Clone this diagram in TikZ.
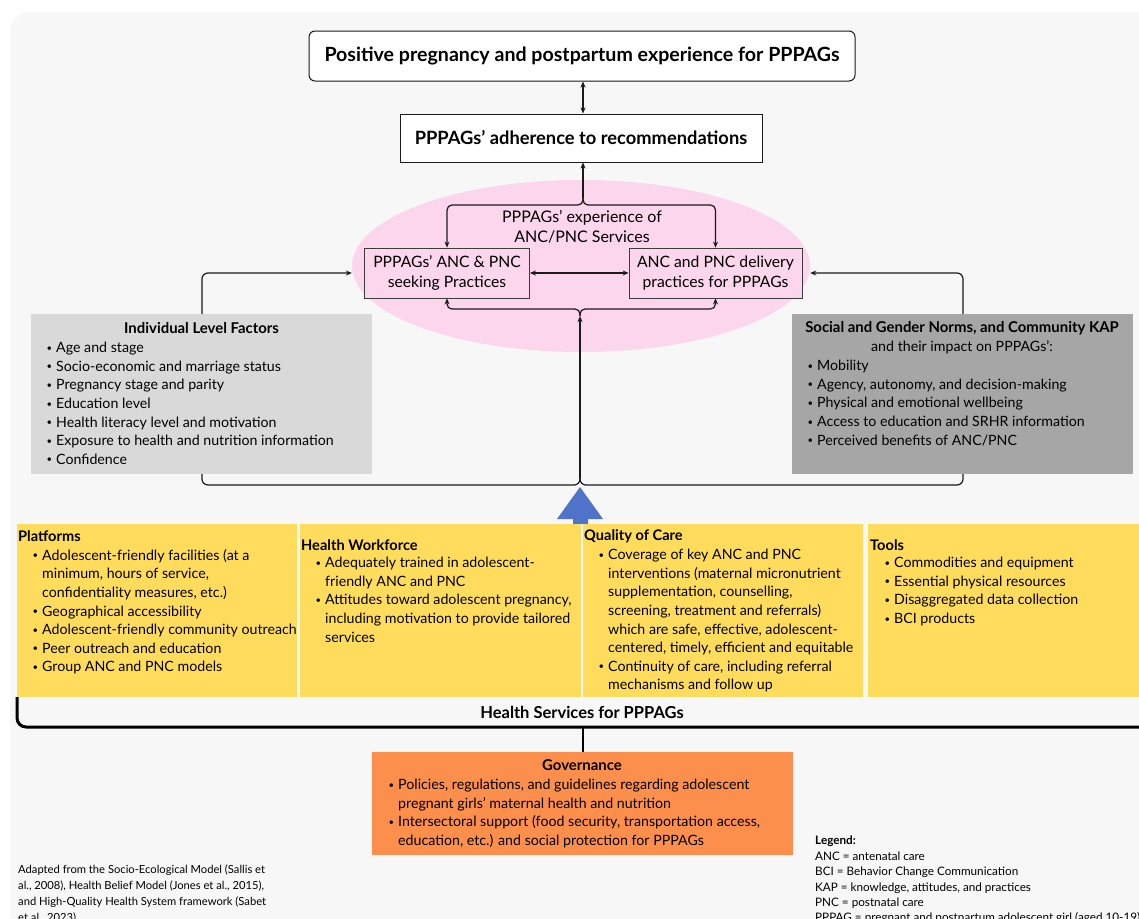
\documentclass[tikz,border=0pt]{standalone}
\usepackage{fontspec}
\setmainfont{Lato}
\usetikzlibrary{arrows.meta,shapes.geometric}
\definecolor{bgc}{HTML}{F7F7F7}
\definecolor{pinkE}{HTML}{FCD6EC}
\definecolor{greyL}{HTML}{D9D9D9}
\definecolor{greyD}{HTML}{A6A6A6}
\definecolor{yel}{HTML}{FFDC5C}
\definecolor{orng}{HTML}{FC8F4B}
\definecolor{blu}{HTML}{4E73C9}
\definecolor{lnc}{HTML}{1A1A1A}
\newcommand\fs[2]{\fontsize{#1}{#2}\selectfont}
\newcommand\mybul{\makebox[10pt][l]{\hspace*{0.5pt}\raisebox{1.4pt}{\fs{9.5}{9.5}\textbullet}}}
\newcommand\mycont{\hspace*{10pt}}
\tikzset{
  arr/.style={-{Stealth[length=6pt,width=5pt]}, line width=1.2pt, draw=lnc},
  darr/.style={{Stealth[length=6pt,width=5pt]}-{Stealth[length=6pt,width=5pt]}, line width=1.2pt, draw=lnc},
  txt/.style={inner sep=0pt, align=left, anchor=north west, font=\fs{14.2}{18.6}},
  ttl/.style={inner sep=0pt, anchor=west, font=\bfseries\fs{14.6}{18}},
  ctitle/.style={inner sep=0pt, font=\bfseries\fs{14.9}{18}},
  ctr/.style={inner sep=0pt, align=center, font=\fs{16}{20}},
  panel/.style={inner sep=0pt, anchor=north west, draw=none},
  pbox/.style={draw=lnc!85, line width=0.8pt, fill=pinkE, minimum height=50pt, inner sep=0pt, align=center, font=\fs{15.7}{20.5}},
}
\begin{document}
\begin{tikzpicture}[x=1pt,y=-1pt]
\useasboundingbox (0,0) rectangle (1139,918);
\clip (0,0) rectangle (1139,918);
\fill[white] (0,0) rectangle (1139,918);
\fill[bgc, rounded corners=20pt] (10,12) rectangle (1180,960);

% top boxes
\node[draw=lnc, line width=1pt, rounded corners=6pt, fill=white, minimum width=546pt, minimum height=50pt, inner sep=0pt, font=\bfseries\fs{19.6}{23}] (top) at (582,56) {Positive pregnancy and postpartum experience for PPPAGs};
\node[draw=lnc, line width=1pt, fill=white, minimum width=362pt, minimum height=48pt, inner sep=0pt, font=\bfseries\fs{18.3}{22}] (adh) at (581,138) {PPPAGs’ adherence to recommendations};
\draw[darr] (top.south -| 583,0) -- (adh.north -| 583,0);

% ellipse
\node[ellipse, fill=pinkE, minimum width=458pt, minimum height=172pt, inner sep=0pt] (ell) at (581,266) {};
\node[ctr] (exp) at (582,227) {PPPAGs’ experience of\\ANC/PNC Services};
\node[pbox, minimum width=165pt] (seek) at (447,273) {PPPAGs’ ANC \& PNC\\seeking Practices};
\node[pbox, minimum width=173pt] (deliv) at (715.5,273) {ANC and PNC delivery\\practices for PPPAGs};
\draw[darr] (seek.east) -- (deliv.west);

\coordinate (jt0) at (583,198);
\coordinate (jt) at (583,205);
\draw[arr] (jt0) -- (jt0 |- adh.south);
\draw[arr, rounded corners=5pt] (jt0) |- (seek.north |- jt) -- (seek.north);
\draw[arr, rounded corners=5pt] (jt0) |- (deliv.north |- jt) -- (deliv.north);

\coordinate (jb0) at (580,316);
\coordinate (jb) at (580,309);
\draw[arr, rounded corners=5pt] (jb0) |- (seek.south |- jb) -- (seek.south);
\draw[arr, rounded corners=5pt] (jb0) |- (deliv.south |- jb) -- (deliv.south);

\coordinate (jc0) at (580,478);
\draw[arr] (jc0) -- (jb0);
\draw[arr, rounded corners=6pt] (jc0) |- (202,485) |- (ell.west |- seek.west);
\draw[arr, rounded corners=6pt] (jc0) |- (963,485) |- (ell.east |- deliv.east);

% grey panels
\node[panel, fill=greyL, minimum width=341pt, minimum height=160pt] (ind) at (31,314) {};
\node[ctitle] (indt) at (201.5,328) {Individual Level Factors};
\node[txt] (indl) at (46,342) {\mybul Age and stage\\\mybul Socio-economic and marriage status\\\mybul Pregnancy stage and parity\\\mybul Education level\\\mybul Health literacy level and motivation\\\mybul Exposure to health and nutrition information\\\mybul Confidence};

\node[panel, fill=greyD, minimum width=341pt, minimum height=160pt] (soc) at (792,314) {};
\node[ctitle] (soct) at (962,328) {Social and Gender Norms, and Community KAP};
\node[inner sep=0pt, font=\fs{14.2}{18}] (soct2) at (962,347) {and their impact on PPPAGs’:};
\node[txt] (socl) at (807,360) {\mybul Mobility\\\mybul Agency, autonomy, and decision-making\\\mybul Physical and emotional wellbeing\\\mybul Access to education and SRHR information\\\mybul Perceived benefits of ANC/PNC};

% blue arrow
\fill[blu] (580,487) -- (603,519) -- (588,519) -- (588,524) -- (573,524) -- (573,519) -- (557,519) -- cycle;

% yellow panels
\node[panel, fill=yel, minimum width=280pt, minimum height=173pt] (plat) at (17,524) {};
\node[panel, fill=yel, minimum width=281pt, minimum height=173pt] (hw) at (300,524) {};
\node[panel, fill=yel, minimum width=280pt, minimum height=173pt] (qoc) at (583,524) {};
\node[panel, fill=yel, minimum width=290pt, minimum height=173pt] (tools) at (868,524) {};

\node[ttl] (platt) at (18,536) {Platforms};
\node[txt] (platl) at (32,549) {\mybul Adolescent-friendly facilities (at a\\\mycont minimum, hours of service,\\\mycont confidentiality measures, etc.)\\\mybul Geographical accessibility\\\mybul Adolescent-friendly community outreach\\\mybul Peer outreach and education\\\mybul Group ANC and PNC models};

\node[ttl] (hwt) at (301,545) {Health Workforce};
\node[txt] (hwl) at (315,557) {\mybul Adequately trained in adolescent-\\\mycont friendly ANC and PNC\\\mybul Attitudes toward adolescent pregnancy,\\\mycont including motivation to provide tailored\\\mycont services};

\node[ttl] (qoct) at (584,536) {Quality of Care};
\node[txt] (qocl) at (598,549) {\mybul Coverage of key ANC and PNC\\\mycont interventions (maternal micronutrient\\\mycont supplementation, counselling,\\\mycont screening, treatment and referrals)\\\mycont which are safe, effective, adolescent-\\\mycont centered, timely, efficient and equitable\\\mybul Continuity of care, including referral\\\mycont mechanisms and follow up};

\node[ttl] (toolst) at (870,545) {Tools};
\node[txt] (toolsl) at (884,557) {\mybul Commodities and equipment\\\mybul Essential physical resources\\\mybul Disaggregated data collection\\\mybul BCI products};

% health services bracket
\draw[line width=3pt, rounded corners=9pt] (17,697) |- (1160,727);
\node[inner sep=0pt, font=\bfseries\fs{16.5}{19}] (hs) at (582,712) {Health Services for PPPAGs};

% governance
\node[panel, fill=orng, minimum width=421pt, minimum height=103pt] (gov) at (372,752) {};
\draw[line width=2pt] (gov.north |- 0,727) -- (gov.north);
\node[ctitle] (govt) at (582,765) {Governance};
\node[txt] (govl) at (388,779) {\mybul Policies, regulations, and guidelines regarding adolescent\\\mycont pregnant girls’ maternal health and nutrition\\\mybul Intersectoral support (food security, transportation access,\\\mycont education, etc.) and social protection for PPPAGs};

% footnote & legend
\node[inner sep=0pt, align=left, anchor=north west, font=\fs{11.2}{15.8}] (foot) at (18,865) {Adapted from the Socio-Ecological Model (Sallis et\\al., 2008), Health Belief Model (Jones et al., 2015),\\and High-Quality Health System framework (Sabet\\et al., 2023).};
\node[inner sep=0pt, align=left, anchor=north west, font=\fs{11.7}{15.4}] (leg) at (815,836) {\textbf{Legend:}\\ANC = antenatal care\\BCI = Behavior Change Communication\\KAP = knowledge, attitudes, and practices\\PNC = postnatal care\\PPPAG = pregnant and postpartum adolescent girl (aged 10-19)};
\end{tikzpicture}
\end{document}
